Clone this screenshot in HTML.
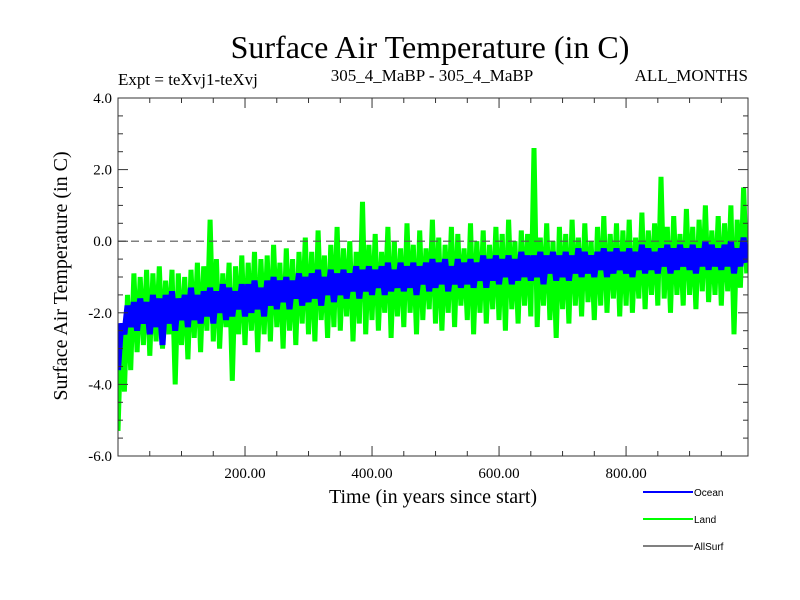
<!DOCTYPE html>
<html><head><meta charset="utf-8"><style>
body{margin:0;background:#fff;}
svg{display:block;font-family:"Liberation Serif",serif;}
</style></head><body>
<svg id="chart" width="800" height="600" viewBox="0 0 800 600">
<rect width="800" height="600" fill="#fff"/>
<text x="430" y="58" font-size="32" text-anchor="middle">Surface Air Temperature (in C)</text>
<text x="118" y="85" font-size="17">Expt = teXvj1-teXvj</text>
<text x="432" y="81" font-size="17" text-anchor="middle">305_4_MaBP - 305_4_MaBP</text>
<text x="748" y="81" font-size="17" text-anchor="end">ALL_MONTHS</text>
<text transform="translate(67,276) rotate(-90)" font-size="20" text-anchor="middle">Surface Air Temperature (in C)</text>
<text x="433" y="503" font-size="20" text-anchor="middle">Time (in years since start)</text>
<g id="plot"></g>
<g id="axes"></g>
<g font-family="Liberation Sans, sans-serif" font-size="10">
<g><line x1="643" y1="492" x2="693" y2="492" stroke="#0000ff" stroke-width="2"/><text x="694" y="496">Ocean</text></g>
<g><line x1="643" y1="519" x2="693" y2="519" stroke="#00ff00" stroke-width="2"/><text x="694" y="523">Land</text></g>
<g><line x1="643" y1="546" x2="693" y2="546" stroke="#000" stroke-width="1"/><text x="694" y="550">AllSurf</text></g>
</g>
</svg>
<script>
const yearStep = 5;
const landValues = [-5.3,-2.4,-4.2,-1.5,-3.6,-0.9,-3.1,-1.0,-2.9,-0.8,
-3.2,-0.9,-2.8,-0.7,-3.0,-1.1,-2.6,-0.8,-4.0,-0.9,
-2.9,-1.0,-3.3,-0.8,-2.7,-0.6,-3.1,-0.7,-2.5,0.6,
-2.8,-0.5,-3.0,-0.9,-2.4,-0.6,-3.9,-0.7,-2.6,-0.4,
-2.9,-0.6,-2.5,-0.3,-3.1,-0.5,-2.6,-0.4,-2.8,-0.1,
-2.4,-0.6,-3.0,-0.2,-2.5,-0.5,-2.9,-0.3,-2.3,0.1,
-2.6,-0.3,-2.8,0.3,-2.2,-0.4,-2.7,-0.1,-2.4,0.4,
-2.5,-0.2,-2.1,0.0,-2.8,-0.3,-2.3,1.1,-2.6,-0.1,
-2.2,0.2,-2.5,-0.3,-2.0,0.4,-2.7,0.0,-2.1,-0.2,
-2.4,0.5,-2.0,-0.1,-2.6,0.3,-2.2,-0.2,-1.9,0.6,
-2.3,0.1,-2.5,-0.1,-2.0,0.4,-2.4,0.2,-1.8,-0.2,
-2.2,0.5,-2.6,0.0,-2.0,0.3,-2.3,-0.1,-1.9,0.4,
-2.2,0.2,-2.5,0.6,-1.9,0.0,-2.3,0.3,-1.8,0.2,
-2.1,2.6,-2.4,0.1,-1.8,0.5,-2.2,0.0,-2.7,0.4,
-1.9,0.2,-2.3,0.6,-1.8,0.1,-2.1,0.5,-1.7,0.0,
-2.2,0.4,-1.8,0.7,-2.0,0.2,-1.6,0.5,-2.1,0.3,
-1.8,0.6,-2.0,0.1,-1.6,0.8,-1.9,0.3,-1.5,0.5,
-1.8,1.8,-1.6,0.4,-2.0,0.7,-1.5,0.2,-1.8,0.9,
-1.5,0.4,-1.9,0.6,-1.4,1.0,-1.7,0.3,-1.5,0.7,
-1.8,0.5,-1.4,1.0,-2.6,0.6,-1.3,1.5,-0.9];
const oceanValues = [-3.6,-2.3,-2.6,-1.8,-2.4,-1.7,-2.5,-1.6,-2.3,-1.7,
-2.6,-1.5,-2.4,-1.6,-2.9,-1.5,-2.3,-1.4,-2.5,-1.6,
-2.2,-1.5,-2.4,-1.3,-2.2,-1.5,-2.3,-1.4,-2.1,-1.3,
-2.3,-1.4,-2.0,-1.2,-2.2,-1.3,-2.1,-1.4,-1.9,-1.2,
-2.1,-1.2,-2.0,-1.1,-1.9,-1.3,-2.1,-1.1,-1.8,-1.0,
-1.9,-1.1,-1.7,-1.0,-1.9,-1.1,-1.6,-0.9,-1.8,-1.0,
-1.7,-0.9,-1.6,-0.8,-1.8,-1.0,-1.5,-0.8,-1.7,-0.9,
-1.5,-0.8,-1.6,-0.9,-1.4,-0.7,-1.6,-0.8,-1.4,-0.7,
-1.5,-0.8,-1.3,-0.7,-1.5,-0.6,-1.4,-0.8,-1.3,-0.6,
-1.4,-0.7,-1.3,-0.6,-1.5,-0.7,-1.2,-0.6,-1.4,-0.5,
-1.3,-0.6,-1.2,-0.5,-1.4,-0.7,-1.2,-0.5,-1.3,-0.6,
-1.2,-0.5,-1.3,-0.6,-1.1,-0.4,-1.3,-0.5,-1.1,-0.4,
-1.2,-0.5,-1.0,-0.4,-1.2,-0.5,-1.1,-0.3,-1.0,-0.4,
-1.1,-0.4,-1.0,-0.3,-1.2,-0.4,-0.9,-0.3,-1.1,-0.4,
-1.0,-0.3,-1.1,-0.4,-0.9,-0.2,-1.0,-0.3,-0.9,-0.4,
-1.0,-0.3,-0.8,-0.2,-1.0,-0.3,-0.9,-0.2,-0.8,-0.3,
-0.9,-0.2,-1.0,-0.3,-0.8,-0.1,-0.9,-0.2,-0.8,-0.3,
-0.9,-0.2,-0.7,-0.1,-0.9,-0.2,-0.8,-0.1,-0.7,-0.2,
-0.8,-0.1,-0.9,-0.2,-0.7,0.0,-0.8,-0.1,-0.7,-0.2,
-0.8,-0.1,-0.7,0.0,-0.9,-0.2,-0.7,0.1,-0.6];
const xTickValues = [200,400,600,800];
const xTickLabels = ["200.00","400.00","600.00","800.00"];
const yTickValues = [4,2,0,-2,-4,-6];
const yTickLabels = ["4.0","2.0","0.0","-2.0","-4.0","-6.0"];

const L=118,R=748,T=98,B=456, XMIN=0,XMAX=992,YMIN=-6,YMAX=4;
const sx=v=>L+(v-XMIN)/(XMAX-XMIN)*(R-L);
const sy=v=>B-(v-YMIN)/(YMAX-YMIN)*(B-T);
const NS="http://www.w3.org/2000/svg";
const plot=document.getElementById('plot'), axes=document.getElementById('axes');
function mk(tag,attrs,parent){const e=document.createElementNS(NS,tag);for(const k in attrs)e.setAttribute(k,attrs[k]);parent.appendChild(e);return e;}

const clip=mk('clipPath',{id:'plotclip'},plot);
mk('rect',{x:L,y:T,width:R-L,height:B-T},clip);

function series(vals,color,w,name){
  const pts=vals.map((v,i)=>sx(i*yearStep).toFixed(1)+','+sy(v).toFixed(1)).join(' ');
  const p=mk('polyline',{points:pts,fill:'none',stroke:color,'stroke-width':w,'stroke-linejoin':'bevel','clip-path':'url(#plotclip)'},plot);
  
  
}
series(landValues,'#00ff00',5,'land-series');
series(oceanValues,'#0000ff',6,'ocean-series');

const z=mk('line',{x1:L,x2:R,y1:sy(0),y2:sy(0),stroke:'#555','stroke-width':1.2,'stroke-dasharray':'8,5'},plot);



const frame=mk('rect',{x:L,y:T,width:R-L,height:B-T,fill:'none',stroke:'#333','stroke-width':1},axes);


for(let v=50;v<XMAX;v+=50){
  const major=v%200===0, len=major?10:5;
  mk('line',{x1:sx(v),x2:sx(v),y1:B,y2:B-len,stroke:'#333'},axes);
  mk('line',{x1:sx(v),x2:sx(v),y1:T,y2:T+len,stroke:'#333'},axes);
}
for(let v=YMIN+0.5;v<YMAX;v+=0.5){
  const major=Math.abs(v%2)<1e-9, len=major?10:5;
  mk('line',{x1:L,x2:L+len,y1:sy(v),y2:sy(v),stroke:'#333'},axes);
  mk('line',{x1:R,x2:R-len,y1:sy(v),y2:sy(v),stroke:'#333'},axes);
}
xTickValues.forEach((v,i)=>{
  const t=mk('text',{x:sx(v),y:B+22,'font-size':15,'text-anchor':'middle'},axes);
  t.textContent=xTickLabels[i];
  
  
});
yTickValues.forEach((v,i)=>{
  const t=mk('text',{x:L-6,y:sy(v)+5,'font-size':15,'text-anchor':'end'},axes);
  t.textContent=yTickLabels[i];
  
  
});
</script>
</body></html>
